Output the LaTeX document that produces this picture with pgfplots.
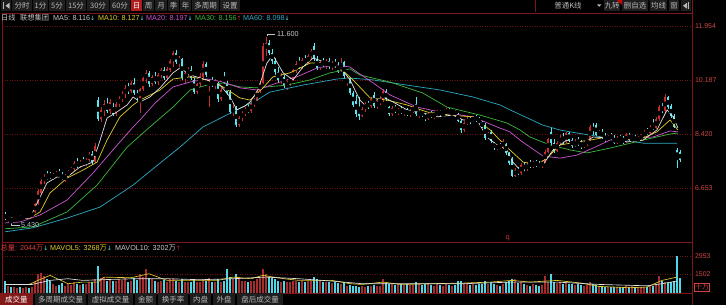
\documentclass[border=0pt]{standalone}
\usepackage{pgfplots}
\pgfplotsset{compat=1.18}
\usepackage{pgfplotstable}
\usepackage{fontspec}
\setmainfont{Liberation Sans}
\newfontfamily\cjk{Noto Sans CJK SC}
\newfontfamily\djv{DejaVu Sans}
\definecolor{frame}{RGB}{125,22,22}
\definecolor{gridc}{RGB}{115,20,20}
\definecolor{ticklab}{RGB}{205,70,70}
\definecolor{upc}{RGB}{200,45,45}
\definecolor{dnc}{RGB}{90,230,240}
\definecolor{upv}{RGB}{165,45,45}
\definecolor{dnv}{RGB}{80,215,230}
\definecolor{ma5}{RGB}{225,225,225}
\definecolor{ma10}{RGB}{225,205,45}
\definecolor{ma20}{RGB}{205,85,210}
\definecolor{ma30}{RGB}{60,185,60}
\definecolor{ma60}{RGB}{45,170,195}
\definecolor{tbbg}{RGB}{30,30,30}
\definecolor{tbt}{RGB}{185,185,185}
\definecolor{selbg}{RGB}{175,30,30}
\definecolor{tabsel}{RGB}{130,25,25}
\definecolor{lgray}{RGB}{200,200,200}
\definecolor{volred}{RGB}{220,60,60}

\pgfplotstableread{
i o h l c v
0 5.78 5.86 5.60 5.64 1000
1 5.64 5.72 5.55 5.68 600
2 5.66 5.70 5.43 5.58 500
3 5.58 5.70 5.54 5.66 450
4 5.66 5.74 5.60 5.70 420
5 5.70 5.76 5.62 5.64 450
6 5.64 5.74 5.60 5.72 400
7 5.72 5.80 5.66 5.76 480
8 5.76 5.84 5.70 5.72 420
9 5.72 5.86 5.70 5.84 520
10 5.86 6.16 5.84 6.12 900
11 6.14 6.62 6.10 6.56 1500
12 6.50 6.95 6.45 6.88 1650
13 6.88 7.10 6.80 7.02 1400
14 7.02 7.22 6.90 6.98 1150
15 7.10 7.18 6.95 6.98 1000
16 6.98 7.14 6.92 7.08 700
17 7.08 7.20 7.00 7.12 600
18 7.12 7.26 7.02 7.06 650
19 7.06 7.18 6.90 6.94 800
20 6.94 7.10 6.86 7.06 600
21 7.06 7.24 7.00 7.20 700
22 7.20 7.34 7.12 7.28 650
23 7.28 7.52 7.22 7.46 900
24 7.46 7.62 7.30 7.38 700
25 7.38 7.56 7.32 7.50 650
26 7.50 7.66 7.40 7.44 750
27 7.44 7.62 7.38 7.58 700
28 7.58 7.84 7.50 7.78 850
29 7.78 7.86 7.42 7.50 900
30 7.50 8.12 7.46 8.04 1100
31 9.52 9.62 8.86 8.92 2150
32 8.92 9.30 8.80 9.20 1200
33 9.20 9.52 9.00 9.40 1300
34 9.40 9.60 9.10 9.16 1000
35 9.16 9.58 9.06 9.48 1100
36 9.30 9.44 9.02 9.06 950
37 9.06 9.46 9.00 9.40 1000
38 9.40 9.66 9.30 9.58 1100
39 9.58 9.82 9.46 9.72 1050
40 9.72 10.02 9.60 9.94 1200
41 9.94 10.10 9.74 9.82 900
42 9.82 10.16 9.76 10.08 1000
43 10.10 10.24 9.70 9.76 1200
44 9.76 9.86 9.50 9.60 1050
45 9.60 9.94 9.10 9.88 1550
46 9.88 10.30 9.84 10.24 1300
47 10.24 10.52 10.10 10.40 1950
48 10.40 10.48 9.96 10.04 1200
49 10.04 10.36 9.98 10.30 1100
50 10.30 10.44 10.06 10.12 1000
51 10.12 10.40 10.02 10.34 900
52 10.34 10.58 10.26 10.50 1000
53 10.50 10.62 10.20 10.26 1050
54 10.26 10.62 10.20 10.56 900
55 10.50 10.86 10.44 10.80 1100
56 10.80 11.14 10.60 11.06 1200
57 11.08 11.18 10.70 10.78 1000
58 10.78 10.98 10.60 10.90 850
59 10.88 10.92 10.18 10.24 1100
60 10.24 10.48 10.10 10.40 900
61 10.40 10.62 10.30 10.52 850
62 10.52 10.64 10.20 10.26 900
63 10.20 10.24 9.74 9.80 1100
64 9.80 10.10 9.72 10.04 850
65 10.04 10.40 9.96 10.32 900
66 10.30 10.80 10.24 10.70 1100
67 10.70 10.78 10.30 10.36 1000
68 10.00 10.18 9.30 10.12 1200
69 10.12 10.28 9.96 10.02 900
70 10.02 10.22 9.90 10.16 850
71 10.10 10.12 9.48 9.56 1100
72 9.56 9.92 9.50 9.86 900
73 10.30 10.44 10.04 10.08 1000
74 10.08 10.14 9.70 9.76 1900
75 9.80 9.86 9.08 9.14 1300
76 9.14 9.36 9.00 9.26 1100
77 9.28 9.32 8.64 8.72 1550
78 8.72 9.00 8.66 8.94 1250
79 8.94 9.18 8.86 9.10 1000
80 9.10 9.30 9.00 9.24 950
81 9.24 9.40 9.10 9.16 900
82 9.16 9.50 9.12 9.44 950
83 9.44 9.60 9.30 9.54 1000
84 9.54 9.90 9.50 9.84 1100
85 9.84 10.16 9.76 10.08 1200
86 10.10 11.40 10.06 11.30 1950
87 11.20 11.60 10.96 11.40 1500
88 11.40 11.50 11.00 11.08 1300
89 11.08 11.20 10.72 10.80 1200
90 10.80 10.90 10.36 10.44 1150
91 10.44 10.60 10.12 10.20 1000
92 10.20 10.40 10.04 10.30 900
93 10.30 10.36 9.94 10.00 950
94 10.00 10.16 9.86 10.08 850
95 10.08 10.30 10.00 10.22 900
96 10.22 10.56 10.16 10.50 950
97 10.50 10.80 10.40 10.70 1000
98 10.70 10.94 10.56 10.64 900
99 10.64 10.90 10.54 10.84 950
100 10.84 11.00 10.66 10.74 900
101 10.74 11.04 10.70 10.98 950
102 10.98 11.20 10.86 11.12 1000
103 11.30 11.40 10.80 10.86 1250
104 10.86 10.96 10.50 10.58 1100
105 10.58 10.84 10.50 10.78 1000
106 10.78 10.92 10.60 10.66 900
107 10.66 10.86 10.56 10.80 850
108 10.80 10.90 10.54 10.60 900
109 10.60 10.82 10.52 10.74 800
110 10.74 10.86 10.58 10.66 850
111 10.66 10.78 10.40 10.48 800
112 10.48 10.90 10.44 10.72 750
113 10.76 10.80 10.26 10.32 900
114 10.10 10.30 10.00 10.24 600
115 10.24 10.28 9.70 9.76 650
116 9.76 9.84 9.30 9.36 550
117 9.50 9.70 8.96 9.06 600
118 9.30 9.62 8.88 9.00 500
119 9.00 9.30 8.96 9.24 550
120 9.24 9.46 9.14 9.40 500
121 9.40 9.50 9.24 9.32 550
122 9.32 9.62 9.26 9.56 600
123 9.70 9.80 9.26 9.32 650
124 9.32 9.52 9.24 9.46 550
125 9.46 9.66 9.36 9.52 600
126 9.52 9.88 9.46 9.82 1100
127 9.82 9.88 9.50 9.56 800
128 9.30 9.34 9.02 9.08 750
129 9.08 9.32 9.02 9.26 700
130 9.26 9.38 9.12 9.18 650
131 9.10 9.28 9.04 9.22 700
132 9.22 9.32 9.08 9.12 750
133 9.12 9.24 9.02 9.18 650
134 9.18 9.26 9.00 9.06 700
135 9.06 9.24 8.98 9.16 650
136 9.16 9.34 9.10 9.28 700
137 9.40 9.62 9.00 9.06 900
138 9.06 9.20 8.94 9.14 700
139 9.14 9.22 8.98 9.04 650
140 9.04 9.10 8.84 8.92 700
141 8.92 9.14 8.88 9.08 750
142 9.08 9.16 8.94 9.00 650
143 9.00 9.12 8.90 9.08 600
144 9.08 9.20 9.00 9.14 700
145 9.14 9.22 9.02 9.06 650
146 9.06 9.14 8.96 9.10 600
147 9.10 9.26 9.04 9.20 700
148 9.20 9.28 9.06 9.10 650
149 9.10 9.18 9.00 9.14 600
150 9.14 9.22 9.02 9.08 650
151 9.08 9.12 8.80 8.86 950
152 8.86 8.90 8.46 8.56 1000
153 8.56 8.84 8.50 8.78 750
154 8.78 8.96 8.70 8.90 700
155 8.90 9.00 8.76 8.84 650
156 8.84 9.02 8.80 8.96 700
157 8.96 9.04 8.82 8.88 650
158 8.88 8.98 8.76 8.80 700
159 8.80 8.86 8.60 8.66 750
160 8.70 8.78 8.22 8.30 1000
161 8.30 8.50 8.24 8.44 700
162 8.50 8.54 8.12 8.18 800
163 8.14 8.16 7.90 7.96 750
164 7.96 8.10 7.88 8.04 650
165 8.04 8.12 7.92 7.98 600
166 7.98 8.24 7.94 8.18 700
167 8.10 8.14 7.74 7.80 900
168 7.80 7.84 7.40 7.46 1000
169 7.60 7.66 7.00 7.06 1100
170 7.06 7.30 7.00 7.24 1150
171 7.24 7.34 7.08 7.14 800
172 7.14 7.46 7.08 7.40 900
173 7.40 7.50 7.20 7.26 700
174 7.26 7.50 7.20 7.44 650
175 7.44 7.56 7.32 7.38 600
176 7.38 7.54 7.30 7.48 700
177 7.48 7.58 7.34 7.40 650
178 7.40 7.52 7.30 7.36 600
179 7.36 7.56 7.32 7.50 650
180 7.50 7.90 7.46 7.84 1350
181 7.84 8.30 7.80 8.24 900
182 8.50 8.62 8.06 8.14 1500
183 8.14 8.24 7.80 7.86 900
184 7.86 8.20 7.82 8.12 800
185 8.12 8.40 8.06 8.30 850
186 8.30 8.46 8.10 8.18 750
187 8.18 8.50 8.14 8.44 800
188 8.44 8.50 8.16 8.22 700
189 8.22 8.30 7.96 8.02 750
190 8.02 8.24 7.98 8.18 650
191 8.18 8.32 8.04 8.10 700
192 8.10 8.22 7.94 8.00 650
193 8.00 8.20 7.96 8.14 600
194 8.14 8.26 8.04 8.22 650
195 8.22 8.72 8.18 8.64 900
196 8.64 8.78 8.40 8.52 700
197 8.70 8.78 8.34 8.40 650
198 8.40 8.56 8.30 8.48 600
199 8.48 8.58 8.26 8.32 550
200 8.32 8.44 8.16 8.22 500
201 8.22 8.40 8.18 8.36 450
202 8.36 8.46 8.22 8.28 500
203 8.28 8.38 8.08 8.14 450
204 8.14 8.34 8.10 8.28 500
205 8.28 8.40 8.18 8.24 450
206 8.24 8.36 8.10 8.16 500
207 8.16 8.44 8.12 8.38 600
208 8.38 8.46 8.20 8.26 450
209 8.26 8.36 8.12 8.30 600
210 8.30 8.40 8.16 8.20 450
211 8.20 8.34 8.14 8.30 500
212 8.30 8.42 8.22 8.34 450
213 8.34 8.56 8.28 8.50 500
214 8.50 8.62 8.40 8.46 500
215 8.46 8.72 8.42 8.66 650
216 8.66 8.90 8.56 8.62 550
217 8.62 8.96 8.58 8.90 700
218 8.90 9.36 8.84 9.30 1330
219 9.30 9.44 9.10 9.16 1000
220 9.16 9.72 9.10 9.62 900
221 9.62 9.66 9.24 9.30 800
222 9.34 9.40 8.94 9.00 900
223 9.00 9.06 8.60 8.66 1000
224 7.90 7.96 7.30 7.60 2950
225 7.84 7.88 7.50 7.56 1170
}\kdata

\pgfplotsset{
  kbase/.style={
    scale only axis, anchor=south west, width=690pt,
    xmin=-1, xmax=229, xtick=\empty,
    axis line style={draw=frame, line width=0.7pt},
    yticklabel pos=right, major tick length=0pt, tick style={draw=none},
    y tick label style={font=\fontsize{7}{8}\selectfont, text=ticklab, anchor=west, xshift=-0.5pt},
    ymajorgrids, grid style={draw=gridc, line width=0.45pt, dash pattern=on 0.6pt off 1.9pt},
  },
  wick/.style={only marks, mark=none, restrict y to domain=0:50,
    error bars/.cd, y dir=both, y explicit, error mark=none,
    error bar style={draw=#1, line width=0.75pt}},
  body/.style={only marks, mark=none, restrict y to domain=0:50,
    error bars/.cd, y dir=both, y explicit, error mark=none,
    error bar style={draw=#1, line width=2.1pt}},
}
\tikzset{
  tb/.style={font=\fontsize{7.5}{8}\cjk, text=tbt, inner sep=0pt},
  lg/.style={font=\fontsize{7.2}{8}\selectfont, inner sep=0pt, anchor=base west},
}
\newcommand{\dn}{\textcolor{dnc}{\fontsize{6}{7}\djv ↓}}
\newcommand{\up}{\textcolor{upc}{\fontsize{6}{7}\djv ↑}}

\begin{document}
\begin{tikzpicture}
\useasboundingbox (0pt,0pt) rectangle (726pt,305pt);
\fill[black] (0pt,0pt) rectangle (726pt,305pt);
\coordinate (volSW) at (2pt,12pt);
\coordinate (mainSW) at (2pt,63pt);

% ---------------- volume panel ----------------
\begin{axis}[kbase, at={(volSW)}, height=51pt,
  ymin=0, ymax=4111, ytick={1502,2953}, yticklabels={1502,2953}]
\addplot[ycomb, mark=none, draw=upv, line width=2pt, restrict y to domain=0:100000]
  table[x=i, y expr={\thisrow{c}>=\thisrow{o} ? \thisrow{v} : -1}] {\kdata};
\addplot[ycomb, mark=none, draw=dnv, line width=2pt, restrict y to domain=0:100000]
  table[x=i, y expr={\thisrow{c}<\thisrow{o} ? \thisrow{v} : -1}] {\kdata};
\addplot[draw=ma10, line width=0.65pt, line join=round] coordinates {
(0,690)(8,690)(11,1015)(15,1420)(21,750)(26,880)(31,880)(33,1280)(42,1230)(48,1550)(54,1015)(65,1015)(71,1015)(76,1280)(82,1150)(86,1420)(93,1150)(98,1015)(109,1015)(115,750)(119,690)(126,880)(132,690)(142,750)(153,800)(162,880)(169,1015)(175,880)(184,1015)(192,800)(198,530)(208,425)(214,480)(219,1015)(224,1280)};
\addplot[draw=ma5, line width=0.65pt, line join=round] coordinates {
(0,690)(9,690)(15,1015)(21,1150)(26,1015)(32,1070)(43,1150)(54,1150)(65,1070)(76,1150)(87,1280)(98,1150)(109,960)(119,750)(132,750)(153,750)(169,880)(184,880)(198,690)(214,580)(219,750)(224,960)};
\end{axis}

% ---------------- price panel ----------------
\begin{axis}[kbase, at={(mainSW)}, height=229pt,
  ymin=4.886, ymax=12.379,
  ytick={6.653,8.420,10.187,11.954}, yticklabels={6.653,8.420,10.187,11.954}]
\addplot[wick=upc] table[x=i, y expr={\thisrow{c}>=\thisrow{o} ? 0.5*(\thisrow{h}+\thisrow{l}) : -10}, y error expr={0.5*(\thisrow{h}-\thisrow{l})}] {\kdata};
\addplot[body=upc] table[x=i, y expr={\thisrow{c}>=\thisrow{o} ? 0.5*(\thisrow{o}+\thisrow{c}) : -10}, y error expr={max(0.5*abs(\thisrow{c}-\thisrow{o}),0.012)}] {\kdata};
\addplot[wick=dnc] table[x=i, y expr={\thisrow{c}<\thisrow{o} ? 0.5*(\thisrow{h}+\thisrow{l}) : -10}, y error expr={0.5*(\thisrow{h}-\thisrow{l})}] {\kdata};
\addplot[body=dnc] table[x=i, y expr={\thisrow{c}<\thisrow{o} ? 0.5*(\thisrow{o}+\thisrow{c}) : -10}, y error expr={max(0.5*abs(\thisrow{c}-\thisrow{o}),0.012)}] {\kdata};
% MA60
\addplot[draw=ma60, line width=0.7pt, line join=round] coordinates {
(0,5.22)(9.3,5.35)(20.7,5.67)(31.7,6.03)(42.7,6.75)(51.7,7.47)(58.3,7.99)(66,8.65)(77.3,9.21)(84,9.53)(88.3,9.79)(99.3,10.02)(110.7,10.22)(115,10.25)(122.7,10.19)(134,10.02)(145,9.86)(156,9.63)(165,9.37)(168.3,9.21)(179.3,8.71)(185,8.55)(190.7,8.45)(197.3,8.35)(206,8.22)(212.7,8.12)(224,8.12)};
% MA30
\addplot[draw=ma30, line width=0.7pt, line join=round] coordinates {
(0,5.32)(9.3,5.38)(20.7,5.87)(30.7,6.75)(40.7,7.99)(48.3,8.65)(56,9.30)(61.7,9.86)(67.3,10.02)(72.7,10.09)(78.3,9.96)(84,9.93)(94,10.02)(101.7,10.19)(108.3,10.42)(115,10.55)(118.3,10.35)(128.3,10.12)(139.3,9.76)(147.3,9.30)(158.3,9.04)(167.3,8.78)(171.7,8.55)(175,8.32)(181.7,8.06)(188.3,7.90)(194,7.80)(201.7,7.96)(212.7,8.22)(221.7,8.42)(224.3,8.45)};
% MA20
\addplot[draw=ma20, line width=0.7pt, line join=round] coordinates {
(0,5.51)(5,5.54)(11.7,5.77)(20.7,6.26)(29.3,7.14)(36,7.90)(42.7,8.65)(45,8.88)(50,9.43)(56,9.96)(61.7,10.12)(67.3,10.22)(72.7,10.12)(78.3,9.93)(84,9.86)(90.7,10.09)(97.3,10.29)(104,10.58)(110.7,10.68)(115,10.61)(117.3,10.45)(122.7,10.09)(128.3,9.70)(137.3,9.30)(145,9.14)(156,8.98)(164,8.65)(168.3,8.49)(171.7,8.22)(175,7.99)(179.3,7.70)(185,7.63)(190.7,7.73)(196,7.96)(201.7,8.22)(208.3,8.29)(216,8.32)(221.7,8.52)(224.3,8.49)};
% MA10
\addplot[draw=ma10, line width=0.7pt, line join=round] coordinates {
(0,5.67)(8.3,5.67)(11.7,5.87)(15,6.49)(20.7,6.98)(26,7.24)(30.7,7.50)(34,8.22)(38.3,8.98)(42.7,9.37)(45,9.53)(51.7,9.86)(56,10.22)(61.7,10.29)(67.3,10.19)(72.7,9.96)(78.3,9.60)(81.7,9.53)(86,9.93)(89.3,10.29)(95,10.42)(101.7,10.74)(107.3,10.74)(111.7,10.58)(116,10.19)(121.7,9.60)(127.3,9.53)(134,9.37)(140.7,9.14)(148.3,9.04)(156,8.98)(161.7,8.55)(167.3,7.99)(172.7,7.50)(177.3,7.41)(180.7,7.63)(185,8.06)(190.7,8.16)(195,8.22)(200.7,8.32)(206,8.22)(212.7,8.29)(217.3,8.49)(221.7,8.88)(224.3,8.55)};
% MA5
\addplot[draw=ma5, line width=0.7pt, line join=round] coordinates {
(0,5.61)(8.3,5.67)(10.7,6.16)(14,6.82)(17.3,7.01)(20.7,7.01)(25,7.34)(29.3,7.50)(31.7,8.22)(34,8.94)(37.3,9.14)(40.7,9.37)(42.7,9.63)(45,9.47)(48.3,9.63)(51.7,9.93)(56,10.42)(58.3,10.58)(61.7,10.35)(67.3,10.19)(71.7,10.02)(75,9.63)(77.3,9.21)(80,9.34)(81.7,9.47)(84.3,9.86)(87.3,10.74)(89.3,11.00)(92.7,10.42)(96,10.19)(99.3,10.61)(102.7,10.91)(107.3,10.74)(111.7,10.61)(115,10.19)(118.3,9.53)(120.7,9.30)(122.7,9.47)(126,9.63)(129.3,9.47)(134,9.21)(139.3,9.11)(144,8.98)(149.3,9.04)(152.7,8.88)(157.3,8.88)(160.7,8.32)(164,8.06)(167.3,7.90)(169.3,7.50)(171.7,7.24)(175,7.47)(179.3,7.41)(182.7,7.90)(187.3,8.22)(191.7,8.06)(196,8.32)(201.7,8.29)(207.3,8.16)(212.7,8.22)(217.3,8.55)(220.7,9.21)(222.7,8.98)(224.3,8.62)};
\end{axis}

\begin{scope}[x=1pt,y=1pt]
% right frame line full height
\draw[frame, line width=0.7pt] (692,0) -- (692,305);

% ---------------- toolbar ----------------
\fill[tbbg] (1,293.6) rectangle (11,305);
\fill[tbt] (3,296) rectangle (4.2,302.5);
\fill[tbt] (5.5,299.25) -- (9.5,302.2) -- (9.5,296.3) -- cycle;
\foreach \a/\b/\t in {12/32/分时, 33/48/1分, 49/65/5分, 66/86/15分, 87/109/30分, 110/130/60分, 143/154/周, 155/167/月, 168/179/季, 180/191/年, 192/219/多周期, 220/240/设置}{
  \fill[tbbg] (\a,293.6) rectangle (\b,305);
  \node[tb] at ({(\a+\b)/2},299.2) {\t};
}
\fill[selbg] (131,293.6) rectangle (142,305);
\node[tb, text=white] at (136.5,299.2) {日};
\draw[frame, line width=0.6pt] (535,293) -- (535,305);
\node[tb] at (568,299.2) {普通K线};
\fill[tbt] (597,300.6) -- (601.4,300.6) -- (599.2,298.2) -- cycle;
\foreach \a/\b/\t in {604/620/九转, 622/648/删自选, 650/667/均线, 669/679/窗}{
  \fill[tbbg] (\a,293.6) rectangle (\b,305);
  \node[tb] at ({(\a+\b)/2},299.2) {\t};
}
\fill[red!85!black] (617,305) -- (622,305) -- (622,300) -- cycle;
\fill[tbbg] (681,293.6) rectangle (691,305);
\fill[tbt] (683,299.25) -- (687,302.2) -- (687,296.3) -- cycle;
\fill[tbt] (688,296) rectangle (689.2,302.5);

% ---------------- price legend ----------------
\node[lg, text=lgray] at (1,284) {\cjk 日线};
\node[lg, text=lgray] at (20,284) {\cjk 联想集团};
\node[lg, text=lgray] at (53,284) {MA5: 8.116\dn};
\node[lg, text=ma10] at (98,284) {MA10: 8.127\dn};
\node[lg, text=ma20] at (146,284) {MA20: 8.197\dn};
\node[lg, text=ma30] at (195,284) {MA30: 8.156\up};
\node[lg, text=ma60] at (243,284) {MA60: 8.098\dn};

% high / low markers
\draw[lgray, line width=0.6pt] (267.5,268.5) -- (267.5,270.5) -- (275,270.5);
\node[lg, text=lgray, anchor=west] at (277,270.5) {11.600};
\draw[lgray, line width=0.6pt] (11,79.8) -- (20,79.8);
\node[lg, text=lgray!80!ma60, anchor=west] at (21,80.3) {5.430};
\node[lg, text=upc, font=\fontsize{7.5}{8}\selectfont] at (505.5,65.8) {q};

% ---------------- volume legend ----------------
\node[lg, text=volred] at (0.5,54.5) {\cjk 总量:};
\node[lg, text=volred] at (20,54.5) {2044{\cjk 万}\dn};
\node[lg, text=ma10] at (50,54.5) {MAVOL5: 3268{\cjk 万}\dn};
\node[lg, text=lgray] at (115,54.5) {MAVOL10: 3202{\cjk 万}\up};
\node[draw=ticklab, line width=0.5pt, text=ticklab, font=\fontsize{7}{8}\cjk, inner sep=0.6pt] at (702,17.8) {十万};

% ---------------- bottom tabs ----------------
\fill[tabsel] (0,0) rectangle (33,11.6);
\node[tb, text=white] at (16.5,5.6) {成交量};
\foreach \a/\b/\t in {35/86/多周期成交量, 88/133/虚拟成交量, 135/156/金额, 158/188/换手率, 190/211/内盘, 213/235/外盘, 237/283/盘后成交量}{
  \fill[tbbg] (\a,0) rectangle (\b,11.6);
  \node[tb] at ({(\a+\b)/2},5.6) {\t};
}
\end{scope}
\end{tikzpicture}
\end{document}
